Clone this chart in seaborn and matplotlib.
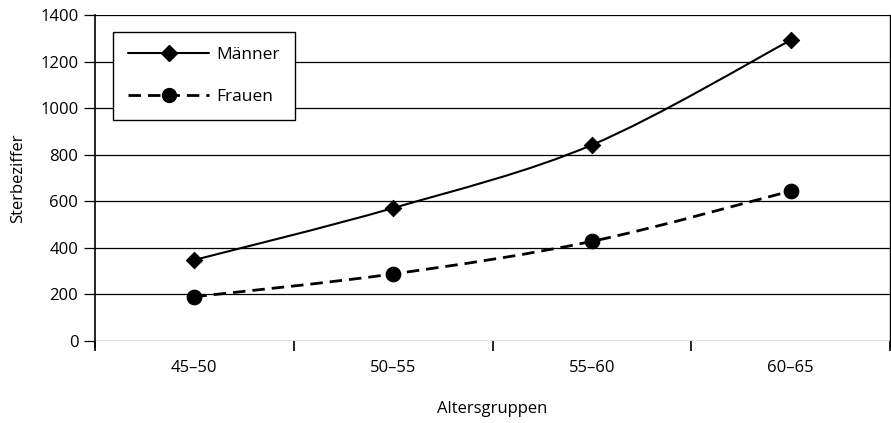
import numpy as np
import pandas as pd
import matplotlib
matplotlib.use("Agg")
import matplotlib.pyplot as plt
from matplotlib.path import Path
from matplotlib.patches import PathPatch
from matplotlib.lines import Line2D
import seaborn as sns

categories = ["45–50", "50–55", "55–60", "60–65"]
maenner = [348, 571, 842, 1292]
frauen = [190, 288, 428, 644]
yticks = [0, 200, 400, 600, 800, 1000, 1200, 1400]

sns.set_theme(style="white")
plt.rcParams["font.family"] = ["Open Sans", "DejaVu Sans"]
plt.rcParams["text.color"] = "black"
plt.rcParams["xtick.color"] = "black"
plt.rcParams["ytick.color"] = "black"
plt.rcParams["axes.labelcolor"] = "black"

df_m = pd.DataFrame({"Altersgruppen": categories, "Sterbeziffer": maenner})
df_f = pd.DataFrame({"Altersgruppen": categories, "Sterbeziffer": frauen})

fig = plt.figure(figsize=(8.91, 4.23), dpi=100)
ax = fig.add_axes([0.1066, 0.1939, 0.8924, 0.7706])

for y in yticks:
    ax.axhline(y, color="black", lw=0.9, zorder=0)


def smooth_path(xs, ys):
    xs = np.asarray(xs, float)
    ys = np.asarray(ys, float)
    n = len(xs)
    verts = [(xs[0], ys[0])]
    codes = [Path.MOVETO]
    for i in range(n - 1):
        p0 = (xs[max(i - 1, 0)], ys[max(i - 1, 0)])
        p1 = (xs[i], ys[i])
        p2 = (xs[i + 1], ys[i + 1])
        p3 = (xs[min(i + 2, n - 1)], ys[min(i + 2, n - 1)])
        c1 = (p1[0] + (p2[0] - p0[0]) / 6, p1[1] + (p2[1] - p0[1]) / 6)
        c2 = (p2[0] - (p3[0] - p1[0]) / 6, p2[1] - (p3[1] - p1[1]) / 6)
        verts += [c1, c2, p2]
        codes += [Path.CURVE4] * 3
    return Path(verts, codes)


sns.scatterplot(data=df_m, x="Altersgruppen", y="Sterbeziffer", marker="D",
                s=70, color="black", edgecolor="black", ax=ax, zorder=3)
sns.scatterplot(data=df_f, x="Altersgruppen", y="Sterbeziffer", marker="o",
                s=110, color="black", edgecolor="black", ax=ax, zorder=3)

xpos = np.arange(len(categories))
ax.add_patch(PathPatch(smooth_path(xpos, maenner), fill=False, ec="black",
                       lw=1.5, zorder=2))
ax.add_patch(PathPatch(smooth_path(xpos, frauen), fill=False, ec="black",
                       lw=2.0, ls=(0, (4.5, 2.5)), zorder=2))

ax.set_xlim(-0.5, 3.5)
ax.set_ylim(0, 1400)
ax.set_yticks(yticks)
ax.set_xticks(xpos)
ax.set_xticklabels(categories)
ax.set_xticks(np.arange(-0.5, 4.0, 1.0), minor=True)
ax.tick_params(axis="x", which="major", length=0, pad=14, labelsize=12)
ax.tick_params(axis="x", which="minor", length=7, width=1.2, color="black",
               direction="out", bottom=True)
ax.tick_params(axis="y", length=8, width=0.9, color="black", direction="out",
               left=True, labelsize=12, pad=4)

ax.spines["top"].set_visible(False)
ax.spines["left"].set_color("black")
ax.spines["left"].set_linewidth(1.2)
ax.spines["left"].set_bounds(-25, 1400)
ax.spines["bottom"].set_visible(False)
ax.spines["right"].set_color("black")
ax.spines["right"].set_linewidth(1.0)
ax.spines["right"].set_bounds(-25, 1400)

ax.set_xlabel("Altersgruppen", fontsize=12, labelpad=18)
ax.set_ylabel("Sterbeziffer", fontsize=12, labelpad=10)

handles = [
    Line2D([], [], color="black", lw=1.5, marker="D", ms=8),
    Line2D([], [], color="black", lw=2.0, ls=(0, (4.5, 2.5)), marker="o", ms=10),
]
leg = ax.legend(handles, ["Männer", "Frauen"], loc="upper left",
                bbox_to_anchor=(0.0226, 0.948), borderaxespad=0,
                frameon=True, fancybox=False,
                edgecolor="black", handlelength=4.7, fontsize=12.5,
                labelspacing=1.5, borderpad=0.85, handletextpad=0.4,
                framealpha=1)
leg.get_frame().set_linewidth(1.0)

fig.savefig("out.png", dpi=100)
